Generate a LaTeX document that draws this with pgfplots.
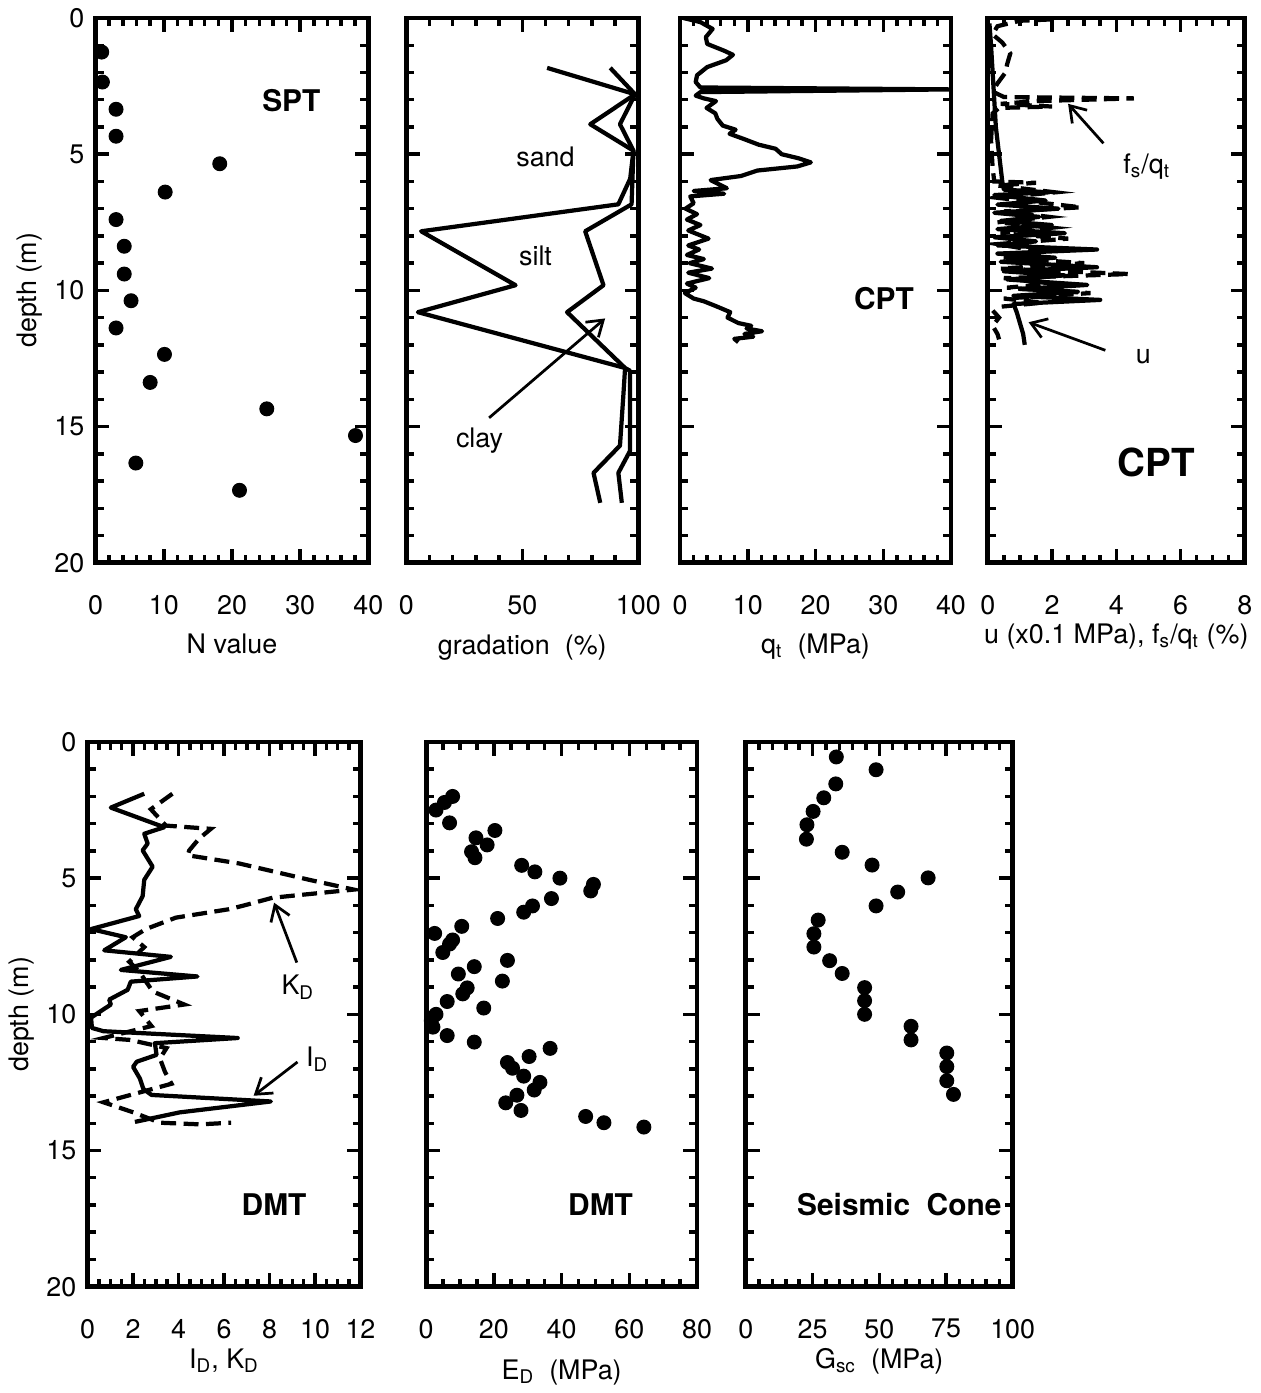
\documentclass[border=0pt]{standalone}
\usepackage{fontspec}
\setmainfont{TeX Gyre Heros}
\usepackage{pgfplots}
\pgfplotsset{compat=1.18}
\usetikzlibrary{arrows.meta}
\newcommand{\fs}{\fontsize{10.8}{12}\selectfont}
\pgfplotsset{
 panel/.style={
  scale only axis, y dir=reverse, ymin=0, ymax=20,
  ytick={0,5,10,15,20}, minor y tick num=4,
  tick align=inside, tick pos=both,
  axis line style={line width=1.9pt},
  every tick/.append style={line width=1.4pt, black},
  major tick length=5.5pt, minor tick length=3.2pt,
  tick label style={font=\fs},
  /pgf/number format/assume math mode=true,
  xticklabel style={yshift=-9.5pt},
  yticklabel style={xshift=-1pt},
  every axis x label/.style={at={(axis description cs:0.5,0)}, anchor=center, yshift=-32.8pt, font=\fs},
  every axis y label/.style={at={(axis description cs:-0.241,0.5)}, rotate=90, anchor=center, font=\fs},
 },
 dots/.style={only marks, mark=*, mark size=2.8pt, black},
 thk/.style={black, line width=1.7pt, line join=round},
 dsh/.style={black, line width=1.7pt, dash pattern=on 6pt off 3pt},
}
\tikzset{arr/.style={line width=1.1pt, -{Straight Barb[length=6pt,width=8pt,line width=1.1pt]}}}
\begin{document}
\begin{tikzpicture}

% ---------------- Panel 1: SPT
\begin{axis}[panel, at={(38.4pt,332pt)}, anchor=south west, width=109.6pt, height=218.8pt,
  xmin=0, xmax=40, xtick={0,10,20,30,40}, minor x tick num=4,
  xlabel={N value}, ylabel={depth (m)}]
\addplot[dots] coordinates {
(0.9,1.25) (1,2.35) (3,3.35) (3,4.34) (18.2,5.35) (10.2,6.39) (3,7.4) (4.2,8.38)
(4.2,9.4) (5.2,10.38) (3,11.38) (10.1,12.35) (8,13.38) (25.1,14.35) (38.1,15.33)
(5.9,16.34) (21.1,17.34)};
\node[font=\bfseries\fontsize{12}{13}\selectfont] at (axis cs:28.7,3.04) {SPT};
\end{axis}

% ---------------- Panel 2: gradation
\begin{axis}[panel, at={(163.2pt,332pt)}, anchor=south west, width=93.2pt, height=218.8pt,
  xmin=0, xmax=100, xtick={0,50,100}, minor x tick num=4, yticklabels={},
  xlabel={gradation~~(\%)}, x label style={yshift=-1.5pt}]
\addplot[thk] coordinates {
(60.7,1.83) (98.6,2.8) (79.3,3.9) (97.9,4.87) (96.5,5.9) (91.4,6.84) (6.4,7.83)
(47.1,9.81) (5,10.8) (94.3,12.85) (93.6,13.8) (92.1,15.7) (80.7,16.7) (83.6,17.8)};
\addplot[thk] coordinates {
(87.9,1.83) (98.6,2.8) (92.1,3.9) (97.9,4.87) (97.1,6.84) (77.1,7.83) (85,9.81)
(69.3,10.8) (94.3,12.85) (96.4,12.95) (96.4,15.9) (91.4,16.7) (92.9,17.8)};
\node[font=\fs] at (axis cs:60,5.1) {sand};
\node[font=\fs] at (axis cs:55.7,8.75) {silt};
\node[font=\fs] at (axis cs:31.6,15.5) {clay};
\draw[arr] (axis cs:35.7,14.68) -- (axis cs:85.7,11.03);
\end{axis}

% ---------------- Panel 3: qt
\begin{axis}[panel, at={(273.2pt,332pt)}, anchor=south west, width=108.8pt, height=218.8pt,
  xmin=0, xmax=40, xtick={0,10,20,30,40}, minor x tick num=4, yticklabels={},
  xlabel={q\textsubscript{t}~~(MPa)}, x label style={yshift=-1pt}]
\addplot[thk] coordinates {
(0.5,0) (3.0,0.15) (4.8,0.4) (3.8,0.7) (4.0,0.95) (6.5,1.2) (7.8,1.35) (6.8,1.55)
(4.0,1.8) (2.5,2.1) (2.3,2.35) (3.0,2.55) (40,2.62) (3.0,2.72) (2.3,2.85) (3.5,2.95)
(5.3,3.05) (3.9,3.3) (5.2,3.5) (5.5,3.7) (6.3,3.95) (8.2,4.1) (7.3,4.25) (9.5,4.45)
(11.6,4.65) (14.1,4.8) (15.0,5.0) (17.5,5.15) (19.3,5.3) (17.3,5.45) (11.4,5.6)
(9.0,5.8) (4.5,5.95) (6.9,6.25) (2.0,6.35) (6.5,6.45) (1.5,6.55) (2.0,6.8) (0.8,7.0)
(2.5,7.2) (1.0,7.4) (3.0,7.6) (1.2,7.8) (4.2,8.1) (1.2,8.35) (2.8,8.5) (1.0,8.7)
(3.5,8.85) (1.4,9.0) (4.7,9.2) (1.2,9.35) (4.3,9.55) (1.0,9.75) (2.3,9.9) (0.7,10.1)
(2.0,10.3) (3.5,10.4) (5.5,10.6) (7.4,10.8) (7.0,11.0) (8.6,11.2) (10.5,11.3)
(9.8,11.4) (12.1,11.5) (9.5,11.6) (10.8,11.7) (8.0,11.78) (8.6,11.9)};
\node[font=\bfseries\fontsize{12}{13}\selectfont] at (axis cs:30.1,10.3) {CPT};
\end{axis}

% ---------------- Panel 4: u, fs/qt
\begin{axis}[panel, at={(396.8pt,332pt)}, anchor=south west, width=103.2pt, height=218.8pt,
  xmin=0, xmax=8, xtick={0,2,4,6,8}, minor x tick num=3, yticklabels={},
  xlabel={u (x0.1 MPa), f\textsubscript{s}/q\textsubscript{t} (\%)}, x label style={yshift=3pt}]
\addplot[thk] coordinates {
(0.05,0.2) (0.1,1) (0.15,2) (0.2,3) (0.25,4) (0.35,5) (0.45,6) (0.5,6.3) (1.9,6.4)
(0.2,6.5) (1.8,6.7) (0.3,6.85) (2.2,7.0) (0.2,7.15) (1.6,7.3) (0.4,7.45) (2.0,7.6)
(0.3,7.75) (2.4,7.9) (0.2,8.05) (1.5,8.2) (0.3,8.35) (3.4,8.5) (0.3,8.65) (2.1,8.8)
(0.4,8.95) (3.4,9.15) (0.5,9.3) (2.4,9.45) (0.6,9.6) (3.1,9.8) (1.0,9.95) (2.8,10.05)
(0.8,10.2) (3.5,10.35) (0.8,10.5) (0.9,10.8) (1.0,11.2) (1.1,11.6) (1.15,12.0)};
\addplot[dsh] coordinates {
(2.0,0.05) (1.0,0.1) (0.3,0.3) (0.15,0.6) (0.45,0.9) (0.7,1.3) (0.6,1.7) (0.55,2.0)
(0.3,2.4) (0.15,2.7) (0.5,2.9) (4.55,2.95) (1.5,3.05) (0.4,3.15) (2.0,3.25) (0.35,3.3)
(0.15,3.5) (0.1,4.5) (0.15,5.5) (0.2,6.0) (1.5,6.05) (0.3,6.15) (2.1,6.4) (0.3,6.6)
(2.9,6.95) (0.5,7.1) (1.9,7.3) (0.3,7.5) (2.0,7.7) (0.4,7.9) (2.5,8.1) (0.3,8.3)
(1.8,8.6) (0.5,8.8) (3.0,9.0) (0.4,9.2) (4.4,9.4) (0.5,9.55) (2.0,9.75) (0.6,9.9)
(3.2,10.1) (0.5,10.3) (1.7,10.45) (0.4,10.6) (0.2,10.8) (0.35,11.0) (0.15,11.3)
(0.3,11.6) (0.35,11.8)};
\node[font=\fs] at (axis cs:4.95,5.45) {f\textsubscript{s}/q\textsubscript{t}};
\draw[arr] (axis cs:3.6,4.6) -- (axis cs:2.5,3.15);
\node[font=\fs] at (axis cs:4.84,12.45) {u};
\draw[arr] (axis cs:3.66,12.2) -- (axis cs:1.27,11.17);
\node[font=\bfseries\fontsize{15.5}{17}\selectfont] at (axis cs:5.25,16.3) {CPT};
\end{axis}

% ---------------- Panel 5: ID, KD
\begin{axis}[panel, at={(35.2pt,41.2pt)}, anchor=south west, width=109.6pt, height=218.8pt,
  xmin=0, xmax=12, xtick={0,2,4,6,8,10,12}, minor x tick num=3,
  xlabel={I\textsubscript{D}, K\textsubscript{D}}, x label style={yshift=3pt}, ylabel={depth (m)}]
\addplot[thk] coordinates {
(2.49,1.9) (1.02,2.41) (3.37,3.13) (2.49,3.37) (2.64,3.73) (2.42,3.98) (2.86,4.58)
(2.49,5.06) (2.42,5.66) (2.12,6.14) (2.27,6.39) (0.15,6.87) (1.68,7.17) (0.73,7.65)
(3.66,7.89) (1.46,8.37) (4.83,8.61) (1.9,8.8) (1.76,9.1) (0.95,9.46) (1.02,9.64)
(0.15,10.12) (0.19,10.5) (0.7,10.62) (6.6,10.87) (2.96,11.06) (3.03,11.49) (2.16,11.74)
(2.0,11.93) (2.3,12.36) (2.45,12.74) (2.81,12.96) (8.06,13.2) (4.05,13.6) (2.08,13.95)};
\addplot[dsh] coordinates {
(3.73,1.9) (2.78,2.47) (3.44,3.07) (5.42,3.19) (4.9,3.55) (4.47,3.98) (4.4,4.16)
(6.66,4.46) (9.74,5.06) (11.7,5.42) (8.13,5.72) (6.8,6.02) (6.22,6.14) (3.88,6.45)
(2.56,6.87) (1.98,7.17) (2.49,7.53) (1.83,8.07) (2.27,8.43) (2.86,9.16) (4.25,9.64)
(2.27,9.88) (2.81,10.43) (0.7,10.87) (1.87,10.94) (3.47,11.24) (3.18,11.62) (3.4,12.11)
(3.69,12.55) (0.7,13.23) (2.01,13.6) (3.18,13.98) (4.93,14.04) (6.31,13.98)};
\node[font=\fs] at (axis cs:9.25,9.0) {K\textsubscript{D}};
\draw[arr] (axis cs:9.2,8.1) -- (axis cs:8.2,5.9);
\node[font=\fs] at (axis cs:10.1,11.65) {I\textsubscript{D}};
\draw[arr] (axis cs:9.23,11.75) -- (axis cs:7.3,12.99);
\node[font=\bfseries\fontsize{12}{13}\selectfont] at (axis cs:8.2,17.0) {DMT};
\end{axis}

% ---------------- Panel 6: ED
\begin{axis}[panel, at={(171.2pt,41.2pt)}, anchor=south west, width=108.8pt, height=218.8pt,
  xmin=0, xmax=80, xtick={0,20,40,60,80}, minor x tick num=3, yticklabels={},
  xlabel={E\textsubscript{D}~~(MPa)}, x label style={yshift=-1.5pt}]
\addplot[dots] coordinates {
(2.9,2.5) (5.4,2.22) (7.8,2.0) (6.9,2.97) (14.7,3.52) (20.3,3.25) (18,3.78) (13.4,4.03)
(14.4,4.25) (28.2,4.53) (32.1,4.77) (39.5,5.0) (49.4,5.23) (48.6,5.47) (37,5.75)
(31.4,6.02) (28.8,6.25) (21.1,6.48) (2.5,7.03) (10.5,6.77) (7.8,7.27) (6.9,7.42)
(4.9,7.73) (24,8.02) (14.2,8.25) (9.5,8.52) (22.5,8.78) (12.1,9.03) (10.8,9.25)
(6.2,9.53) (17,9.77) (2.9,10.0) (1.5,10.23) (2,10.47) (6.2,10.78) (14.2,11.02)
(36.6,11.25) (30.4,11.55) (24,11.77) (25.5,11.98) (28.8,12.27) (33.6,12.5) (31.9,12.78)
(26.8,12.97) (23.5,13.25) (28,13.53) (47.1,13.75) (52.5,13.98) (64.3,14.14)};
\node[font=\bfseries\fontsize{12}{13}\selectfont] at (axis cs:51.5,17.0) {DMT};
\end{axis}

% ---------------- Panel 7: Gsc
\begin{axis}[panel, at={(299.6pt,41.2pt)}, anchor=south west, width=107.2pt, height=218.8pt,
  xmin=0, xmax=100, xtick={0,25,50,75,100}, minor x tick num=4, yticklabels={},
  xlabel={G\textsubscript{sc}~~(MPa)}, x label style={yshift=3pt}]
\addplot[dots] coordinates {
(33.9,0.55) (48.8,1.02) (33.7,1.54) (29.2,2.05) (25.2,2.55) (22.9,3.04) (22.7,3.57)
(36.1,4.05) (47.3,4.52) (68.3,4.99) (56.9,5.51) (48.8,6.02) (27.1,6.54) (25.5,7.04)
(25.5,7.53) (31.4,8.03) (36.1,8.5) (44.5,9.02) (44.5,9.5) (44.5,10.0) (61.9,10.44)
(61.9,10.94) (75.3,11.42) (75.3,11.92) (75.3,12.44) (77.8,12.94)};
\node[font=\bfseries\fontsize{12}{13}\selectfont] at (axis cs:57.5,17.0) {Seismic~~Cone};
\end{axis}
\useasboundingbox (0,0) rectangle (505.6pt,557.2pt);
\end{tikzpicture}
\end{document}
